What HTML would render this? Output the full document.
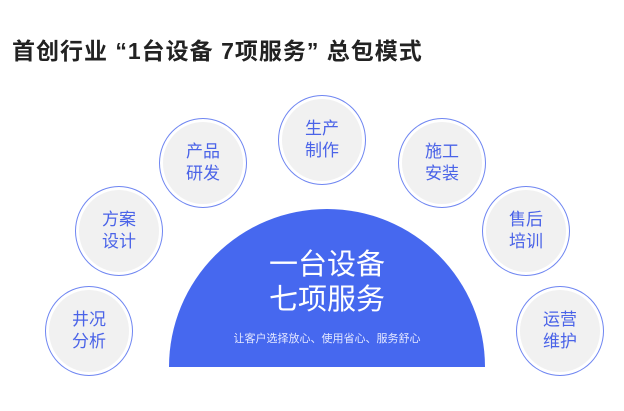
<!DOCTYPE html>
<html><head><meta charset="utf-8"><style>
html,body{margin:0;padding:0;background:#fff;}
body{width:624px;height:411px;position:relative;overflow:hidden;font-family:"Liberation Sans","Noto Sans CJK SC",sans-serif;}
.t{position:absolute;left:12px;top:32px;font-size:23px;font-weight:bold;color:#222;letter-spacing:1px;white-space:nowrap;}
.c{position:absolute;width:86px;height:88px;border-radius:50%;border:1px solid #6f86f2;background:#f1f1f1;box-shadow:inset 0 0 0 3px #fff;display:flex;align-items:center;justify-content:center;text-align:center;color:#4a63e8;font-size:17px;line-height:22px;}
.semi{position:absolute;left:169px;top:209px;width:316px;height:158px;background:#4668ef;border-radius:158px 158px 0 0;}
.m{position:absolute;left:169px;width:316px;text-align:center;color:#fff;}
</style></head><body>
<div class="t">首创行业 “1台设备 7项服务” 总包模式</div>
<div class="c" style="left:278px;top:95px;">生产<br>制作</div>
<div class="c" style="left:159px;top:118px;">产品<br>研发</div>
<div class="c" style="left:398px;top:118px;">施工<br>安装</div>
<div class="c" style="left:75px;top:186px;">方案<br>设计</div>
<div class="c" style="left:482px;top:186px;">售后<br>培训</div>
<div class="c" style="left:45px;top:286px;">井况<br>分析</div>
<div class="c" style="left:516px;top:286px;">运营<br>维护</div>
<div class="semi"></div>
<div class="m" style="top:248px;font-size:29px;line-height:35px;">一台设备<br>七项服务</div>
<div class="m" style="top:330px;font-size:11px;color:#e4e8ff;">让客户选择放心、使用省心、服务舒心</div>
</body></html>
